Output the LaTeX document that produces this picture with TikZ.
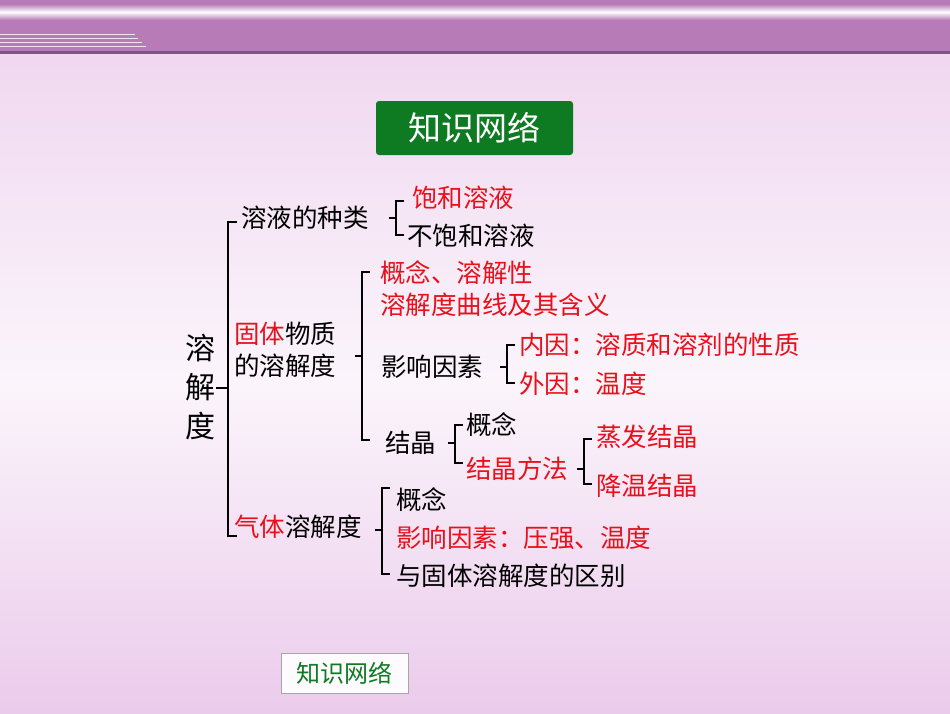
\documentclass[tikz,border=0pt]{standalone}
\usepackage{fontspec}
\usetikzlibrary{calc}
\setmainfont{Noto Sans CJK SC}
\newcommand\mybrace[4]{% x, top, bottom, mid
  \draw[br] (#1+8,#2) -- (#1,#2) -- (#1,#3) -- (#1+8,#3);
  \draw[br] (#1-7,#4) -- (#1,#4);}
\begin{document}
\begin{tikzpicture}[x=1pt,y=-1pt,
  txt/.style={anchor=west,inner sep=0pt,font=\fontsize{25.5}{27}\selectfont},
  red/.style={text=rd},
  br/.style={line width=2.2pt,black}]
\definecolor{rd}{HTML}{E8101A}
\definecolor{bgp}{HTML}{EBCBEB}
\definecolor{hdr}{HTML}{B77BB7}
\definecolor{grn}{HTML}{0E7A22}
\useasboundingbox (0,0) rectangle (950,713);
\shade[top color=bgp!75!white,bottom color=bgp,middle color=bgp!20!white] (0,52) rectangle (950,713);
\fill[hdr] (0,0) rectangle (950,52);
\shade[top color=hdr,bottom color=hdr,middle color=white] (0,4) rectangle (950,20);
\fill[hdr!70!black] (0,51) rectangle (950,54);
\foreach \y/\l in {34/135,38/138,42/142,46/146}{\draw[white!80!hdr,line width=1pt] (0,\y) -- (\l,\y);}
% title
\node[fill=grn,rounded corners=3pt,minimum width=197pt,minimum height=54pt,text=white,font=\fontsize{33}{35}\selectfont] (title) at (474.5,128) {知识网络};
\node[draw=gray!70,fill=white!92!bgp,minimum width=127pt,minimum height=40pt,text=grn,font=\fontsize{24}{26}\selectfont,inner sep=0pt] (btn) at (344.5,673) {知识网络};
% root
\node[inner sep=0pt,align=center,font=\fontsize{30}{39}\selectfont] (root) at (200,387) {溶\\解\\度};
% main bracket
\coordinate (m1) at (228,222); \coordinate (m2) at (228,536); \coordinate (mt) at (216,388);
\draw[br] ($(m1)+(9,0)$) -- (m1) -- (m2) -- ($(m2)+(9,0)$);
\draw[br] (mt) -- (228,388);
\node[txt] (a) at (241,218) {溶液的种类};
\node[txt] (b1) at (234,334) {\textcolor{rd}{固体}物质};
\node[txt] (b2) at (234,366) {的溶解度};
\node[txt] (c) at (234,527) {\textcolor{rd}{气体}溶解度};
\mybrace{396}{201}{235}{218}
\node[txt,red] (a1) at (412,198) {饱和溶液};
\node[txt] (a2) at (407,236) {不饱和溶液};
\mybrace{362}{272}{440}{356}
\node[txt,red] (b11) at (380,273) {概念、溶解性};
\node[txt,red] (b12) at (380,305) {溶解度曲线及其含义};
\node[txt] (b13) at (381,367) {影响因素};
\node[txt] (b14) at (385,443) {结晶};
\mybrace{507}{345}{383}{367}
\node[txt,red] (n1) at (519,345) {内因：溶质和溶剂的性质};
\node[txt,red] (n2) at (519,384) {外因：温度};
\mybrace{455}{425}{463}{443}
\node[txt] (j1) at (466,425) {概念};
\node[txt,red] (j2) at (466,469) {结晶方法};
\mybrace{584}{439}{484}{469}
\node[txt,red] (k1) at (596,437) {蒸发结晶};
\node[txt,red] (k2) at (596,486) {降温结晶};
\mybrace{382}{488}{574}{530}
\node[txt] (c1) at (396,500) {概念};
\node[txt,red] (c2) at (396,538) {影响因素：压强、温度};
\node[txt] (c3) at (396,576) {与固体溶解度的区别};
\end{tikzpicture}
\end{document}
